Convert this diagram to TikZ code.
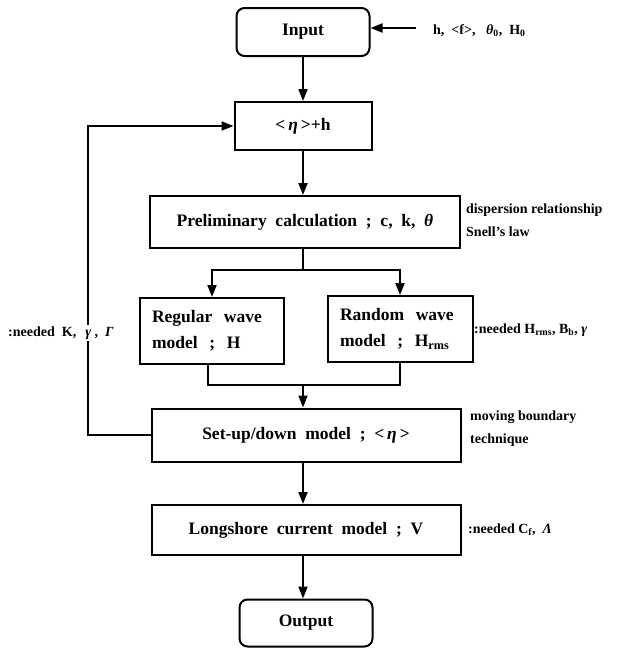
\documentclass[tikz,border=0pt]{standalone}
\usepackage{fontspec}
\setmainfont{Liberation Serif}
\usetikzlibrary{arrows.meta}
\begin{document}
\begin{tikzpicture}[x=1pt,y=-1pt,
  box/.style={draw, line width=2pt, inner sep=0pt, font=\bfseries\fontsize{17.5}{26}\selectfont},
  rbox/.style={box, rounded corners=8pt},
  lbl/.style={inner sep=0pt, anchor=west, font=\bfseries\fontsize{14}{23}\selectfont, align=left},
  conn/.style={line width=1.8pt},
  arr/.style={conn, -{Triangle[length=12pt,width=9pt]}}]
\useasboundingbox (0,0) rectangle (618,649);
\node[rbox, minimum width=133pt, minimum height=48pt] (input) at (303,32) {Input};
\node[box, minimum width=137pt, minimum height=48pt] (eta) at (303,126) {<\,\textit{η}\,>+h};
\node[box, minimum width=310pt, minimum height=52pt] (prelim) at (305,222) {Preliminary\ \ calculation\ \ ;\ \ c,\ \ k,\ \ \textit{θ}};
\node[box, minimum width=144pt, minimum height=66pt, align=left, text width=120pt] (regular) at (212,331) {Regular\ \ wave\\model\ \ ;\ \ H};
\node[box, minimum width=145pt, minimum height=66pt, align=left, text width=120pt] (random) at (400,329) {Random\ \ wave\\model\ \ ;\ \ H\textsubscript{rms}};
\node[box, minimum width=309pt, minimum height=53pt] (setup) at (306,435) {Set-up/down\ \ model\ \ ;\ \ <\,\textit{η}\,>};
\node[box, minimum width=309pt, minimum height=50pt] (long) at (306,530) {Longshore\ \ current\ \ model\ \ ;\ \ V};
\node[rbox, minimum width=133pt, minimum height=47pt] (output) at (306,623) {Output};

\node[lbl] (inlbl) at (433,31) {h,\ \ <f>,\ \ \ \textit{θ}\textsubscript{0},\ \ H\textsubscript{0}};
\node[lbl] (disp) at (466,220) {dispersion\ relationship\\Snell's\ law};
\node[lbl] (randlbl) at (474,330) {:needed\ H\textsubscript{rms},\ B\textsubscript{b},\ \textit{γ}};
\node[lbl] (movlbl) at (470,429) {moving\ boundary\\technique};
\node[lbl] (longlbl) at (468,530) {:needed\ C\textsubscript{f},\ \ \textit{Λ}};

\coordinate (inp) at (416,28);
\coordinate (split) at (303,270);
\coordinate (m1) at (208,385);
\coordinate (m2) at (400,385);
\coordinate (mc) at (303,385);
\coordinate (fb) at (88,126);

\draw[arr] (inp) -- (inp -| input.east);
\draw[arr] (input) -- (eta);
\draw[arr] (eta.south) -- (eta.south |- prelim.north);
\draw[conn] (prelim.south -| split) -- (split);
\draw[arr] (split) -| (regular.north);
\draw[arr] (split) -| (random.north);
\draw[conn] (regular.south -| m1) -- (m1) -- (m2) -- (random.south -| m2);
\draw[arr] (mc) -- (mc |- setup.north);
\draw[arr] (setup.west) -| (fb) -- (eta.west);
\draw[arr] (setup.south -| mc) -- (mc |- long.north);
\draw[arr] (long.south -| mc) -- (mc |- output.north);

\node[lbl, fill=white, inner ysep=2pt] (reglbl) at (8,333) {:needed\ \ K,\hspace{9pt}\textit{γ}\ ,\hspace{7pt}\textit{Γ}};
\end{tikzpicture}
\end{document}
